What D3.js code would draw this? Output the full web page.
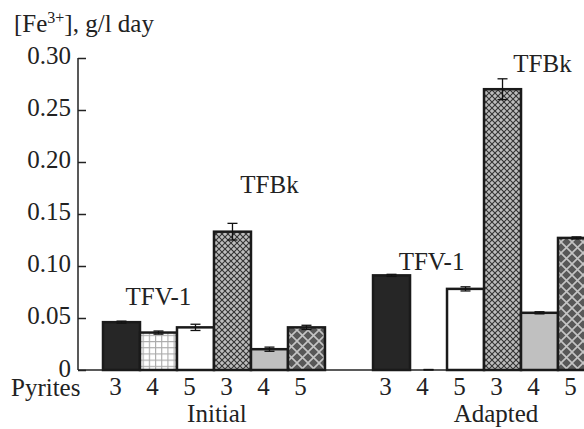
<!DOCTYPE html>
<html>
<head>
<meta charset="utf-8">
<script src="https://cdn.jsdelivr.net/npm/d3@7"></script>
<style>
  body { margin: 0; background: #fff; }
</style>
</head>
<body>
<svg id="chart" width="584" height="429"></svg>
<script>
// data
const groups = ["Initial", "Adapted"];
const pyrites = ["3", "4", "5", "3", "4", "5"];
const initialVals = [0.046, 0.036, 0.041, 0.133, 0.020, 0.041];
const initialErr = [0.001, 0.0015, 0.003, 0.008, 0.002, 0.002];
const adaptedVals = [0.091, 0.0, 0.078, 0.270, 0.055, 0.127];
const adaptedErr = [0.001, 0.0005, 0.002, 0.010, 0.001, 0.001];
const yTicks = [0, 0.05, 0.10, 0.15, 0.20, 0.25, 0.30];
const fills = ["#262626", "url(#grid)", "#fff", "url(#hatch)", "#c0c0c0", "url(#lattice)"];

const svg = d3.select("#chart");
const ink = "#222";
const fs = 25;
const serif = '"Liberation Serif", "Times New Roman", serif';

// patterns
const defs = svg.append("defs");
const grid = defs.append("pattern").attr("id", "grid").attr("patternUnits", "userSpaceOnUse")
  .attr("width", 6.2).attr("height", 6.2);
grid.append("rect").attr("width", 6.2).attr("height", 6.2).attr("fill", "#fff");
grid.append("path").attr("d", "M0,0.5H6.2M0.5,0V6.2").attr("stroke", "#aaa").attr("stroke-width", 1.2);

const hatch = defs.append("pattern").attr("id", "hatch").attr("patternUnits", "userSpaceOnUse")
  .attr("width", 6).attr("height", 6);
hatch.append("rect").attr("width", 6).attr("height", 6).attr("fill", "#bdbdbd");
hatch.append("path").attr("d", "M0,0L6,6M6,0L0,6").attr("stroke", "#333").attr("stroke-width", 1.1);

const lattice = defs.append("pattern").attr("id", "lattice").attr("patternUnits", "userSpaceOnUse")
  .attr("width", 11).attr("height", 11);
lattice.append("rect").attr("width", 11).attr("height", 11).attr("fill", "#585858");
lattice.append("path").attr("d", "M0,0L11,11M11,0L0,11").attr("stroke", "#c4c4c4").attr("stroke-width", 1.6);

// scales
const y = d3.scaleLinear().domain([0, 0.30]).range([370, 58]);
const xGroup = d3.scaleBand().domain(groups).range([103, 595]).paddingInner(0.178).paddingOuter(0);
const xBar = d3.scaleBand().domain(d3.range(6)).range([0, xGroup.bandwidth()]).padding(0);
const barMid = (g, i) => xGroup(g) + xBar(i) + xBar.bandwidth() / 2;

const bars = [];
groups.forEach((g, gi) => {
  const vals = gi === 0 ? initialVals : adaptedVals;
  const errs = gi === 0 ? initialErr : adaptedErr;
  vals.forEach((v, i) => bars.push({ g, i, v, e: errs[i] }));
});

// x axis baseline
svg.append("line").attr("x1", 78).attr("x2", 584).attr("y1", y(0)).attr("y2", y(0))
  .attr("stroke", "#5a5a5a").attr("stroke-width", 2);

// bars
svg.append("g").selectAll("rect")
  .data(bars.filter(d => d.v > 0)).join("rect")
  .attr("x", d => xGroup(d.g) + xBar(d.i))
  .attr("y", d => y(d.v))
  .attr("width", xBar.bandwidth())
  .attr("height", d => y(0) - y(d.v))
  .attr("fill", d => fills[d.i])
  .attr("stroke", "#1a1a1a")
  .attr("stroke-width", 2.5);

// error bars
const eb = svg.append("g").attr("stroke", "#111").attr("stroke-width", 1.3);
bars.forEach(d => {
  const cx = barMid(d.g, d.i);
  const hi = y(d.v + d.e), lo = y(Math.max(0, d.v - d.e));
  eb.append("line").attr("x1", cx).attr("x2", cx).attr("y1", hi).attr("y2", lo);
  eb.append("line").attr("x1", cx - 5).attr("x2", cx + 5).attr("y1", hi).attr("y2", hi);
  eb.append("line").attr("x1", cx - 5).attr("x2", cx + 5).attr("y1", lo).attr("y2", lo);
});

// y axis
const yAxis = d3.axisLeft(y).tickValues(yTicks)
  .tickFormat(d => d === 0 ? "0" : d3.format(".2f")(d))
  .tickSize(-8).tickPadding(6);
const ya = svg.append("g").attr("transform", "translate(78,0)").call(yAxis);
ya.select(".domain").attr("d", `M0,${y(0.30)}V${y(0)}`).attr("stroke", ink).attr("stroke-width", 1.5);
ya.selectAll(".tick line").attr("stroke", ink).attr("stroke-width", 1.5);
ya.selectAll(".tick text").attr("x", -7).attr("dy", "0.22em");
ya.selectAll(".tick").filter(d => d === 0).select("text").attr("dy", "0.26em");

// y title
const title = svg.append("text").attr("x", 14).attr("y", 32);
title.append("tspan").text("[Fe");
title.append("tspan").text("3+").attr("class", "sup").attr("dy", -9);
title.append("tspan").text("], g/l day").attr("dy", 9);

// x labels
svg.append("text").attr("x", 11).attr("y", 396).text("Pyrites");
svg.append("g").selectAll("text").data(bars).join("text")
  .attr("x", d => barMid(d.g, d.i) - 6)
  .attr("y", 395).attr("text-anchor", "middle")
  .text(d => pyrites[d.i]);
svg.append("g").selectAll("text").data(groups).join("text")
  .attr("x", (d, i) => xGroup(d) + xGroup.bandwidth() / 2 + (i === 0 ? 3 : 12))
  .attr("y", 422).attr("text-anchor", "middle")
  .text(d => d);

// strain labels, placed above the first bar of each strain trio
const strainLabels = [
  { t: "TFV-1", g: "Initial", i: 1, v: initialVals[0], dy: -17 },
  { t: "TFBk", g: "Initial", i: 4, v: initialVals[3] + initialErr[3], dy: -30 },
  { t: "TFV-1", g: "Adapted", i: 1, v: adaptedVals[0], dy: -5 },
  { t: "TFBk", g: "Adapted", i: 4, v: adaptedVals[3] + adaptedErr[3], dy: -7 }
];
svg.append("g").selectAll("text").data(strainLabels).join("text")
  .attr("x", d => barMid(d.g, d.i) + (d.g === "Adapted" ? 3 : 0))
  .attr("y", d => y(d.v) + d.dy)
  .attr("text-anchor", "middle")
  .text(d => d.t);

// shared text style, set on each text element
svg.selectAll("text")
  .style("font-family", serif)
  .style("font-size", fs + "px")
  .style("fill", ink);
svg.selectAll("tspan.sup").style("font-size", "16px");
</script>
</body>
</html>
